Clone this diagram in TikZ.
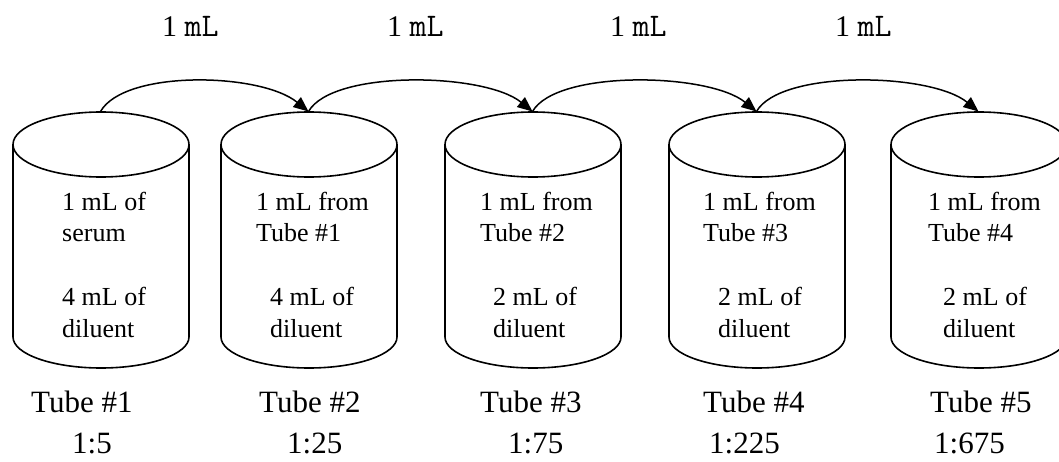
\documentclass[tikz,border=0pt]{standalone}
\usepackage{fontspec}
\setmainfont{Liberation Serif}
\usetikzlibrary{arrows.meta}
\newcommand{\mlunit}{{\fontsize{33}{36}\selectfont\ttfamily mL}}
\begin{document}
\begin{tikzpicture}[x=1pt,y=-1pt,
  tubeline/.style={line width=1.6pt},
  inner/.style={anchor=base west, inner sep=0pt, align=left, font=\fontsize{26}{32}\selectfont},
  lbl/.style={anchor=base west, inner sep=0pt, font=\fontsize{31}{36}\selectfont},
  xfer/.style={line width=1.5pt, -{Triangle[length=15pt,width=12.5pt]}}]
\useasboundingbox (0,0) rectangle (1059,462);
\clip (0,0) rectangle (1059,462);
\fill[white] (0,0) rectangle (1059,462);
% tubes
\foreach \c/\n in {101/1,309/2,533/3,757/4,979/5}{
  \draw[tubeline] (\c,144.5) ellipse [x radius=88, y radius=32.5];
  \draw[tubeline] (\c-88,144.5) -- (\c-88,337)
     arc[start angle=180, end angle=0, x radius=88, y radius=31] -- (\c+88,144.5);
  \coordinate (top\n) at (\c-0.5,111.5);
}
% transfer arrows
\draw[xfer] (top1) .. controls +(24,-42) and +(-48,-39) .. (top2);
\draw[xfer] (top2) .. controls +(24,-42) and +(-48,-39) .. (top3);
\draw[xfer] (top3) .. controls +(24,-42) and +(-48,-39) .. (top4);
\draw[xfer] (top4) .. controls +(24,-42) and +(-48,-39) .. (top5);
% top labels
\node[lbl, font=\fontsize{30}{36}\selectfont] (v1) at (162,37) {1 \mlunit};
\node[lbl, font=\fontsize{30}{36}\selectfont] (v2) at (387,37) {1 \mlunit};
\node[lbl, font=\fontsize{30}{36}\selectfont] (v3) at (610,37) {1 \mlunit};
\node[lbl, font=\fontsize{30}{36}\selectfont] (v4) at (835,37) {1 \mlunit};
% contents (anchored at the baseline of the last line)
\node[inner] (a1) at (62,242) {1 mL of\\serum};
\node[inner] (b1) at (62,337) {4 mL of\\diluent};
\node[inner] (a2) at (256,242) {1 mL from\\Tube \#1};
\node[inner] (b2) at (270,337) {4 mL of\\diluent};
\node[inner] (a3) at (480,242) {1 mL from\\Tube \#2};
\node[inner] (b3) at (493,337) {2 mL of\\diluent};
\node[inner] (a4) at (703,242) {1 mL from\\Tube \#3};
\node[inner] (b4) at (718,337) {2 mL of\\diluent};
\node[inner] (a5) at (928,242) {1 mL from\\Tube \#4};
\node[inner] (b5) at (943,337) {2 mL of\\diluent};
% tube names and ratios
\node[lbl] (n1) at (31,412) {Tube \#1};
\node[lbl] (n2) at (259,412) {Tube \#2};
\node[lbl] (n3) at (480,412) {Tube \#3};
\node[lbl] (n4) at (703,412) {Tube \#4};
\node[lbl] (n5) at (930,412) {Tube \#5};
\node[lbl] (r1) at (72,453) {1:5};
\node[lbl] (r2) at (287,453) {1:25};
\node[lbl] (r3) at (508,453) {1:75};
\node[lbl] (r4) at (709,453) {1:225};
\node[lbl] (r5) at (934,453) {1:675};
\end{tikzpicture}
\end{document}
